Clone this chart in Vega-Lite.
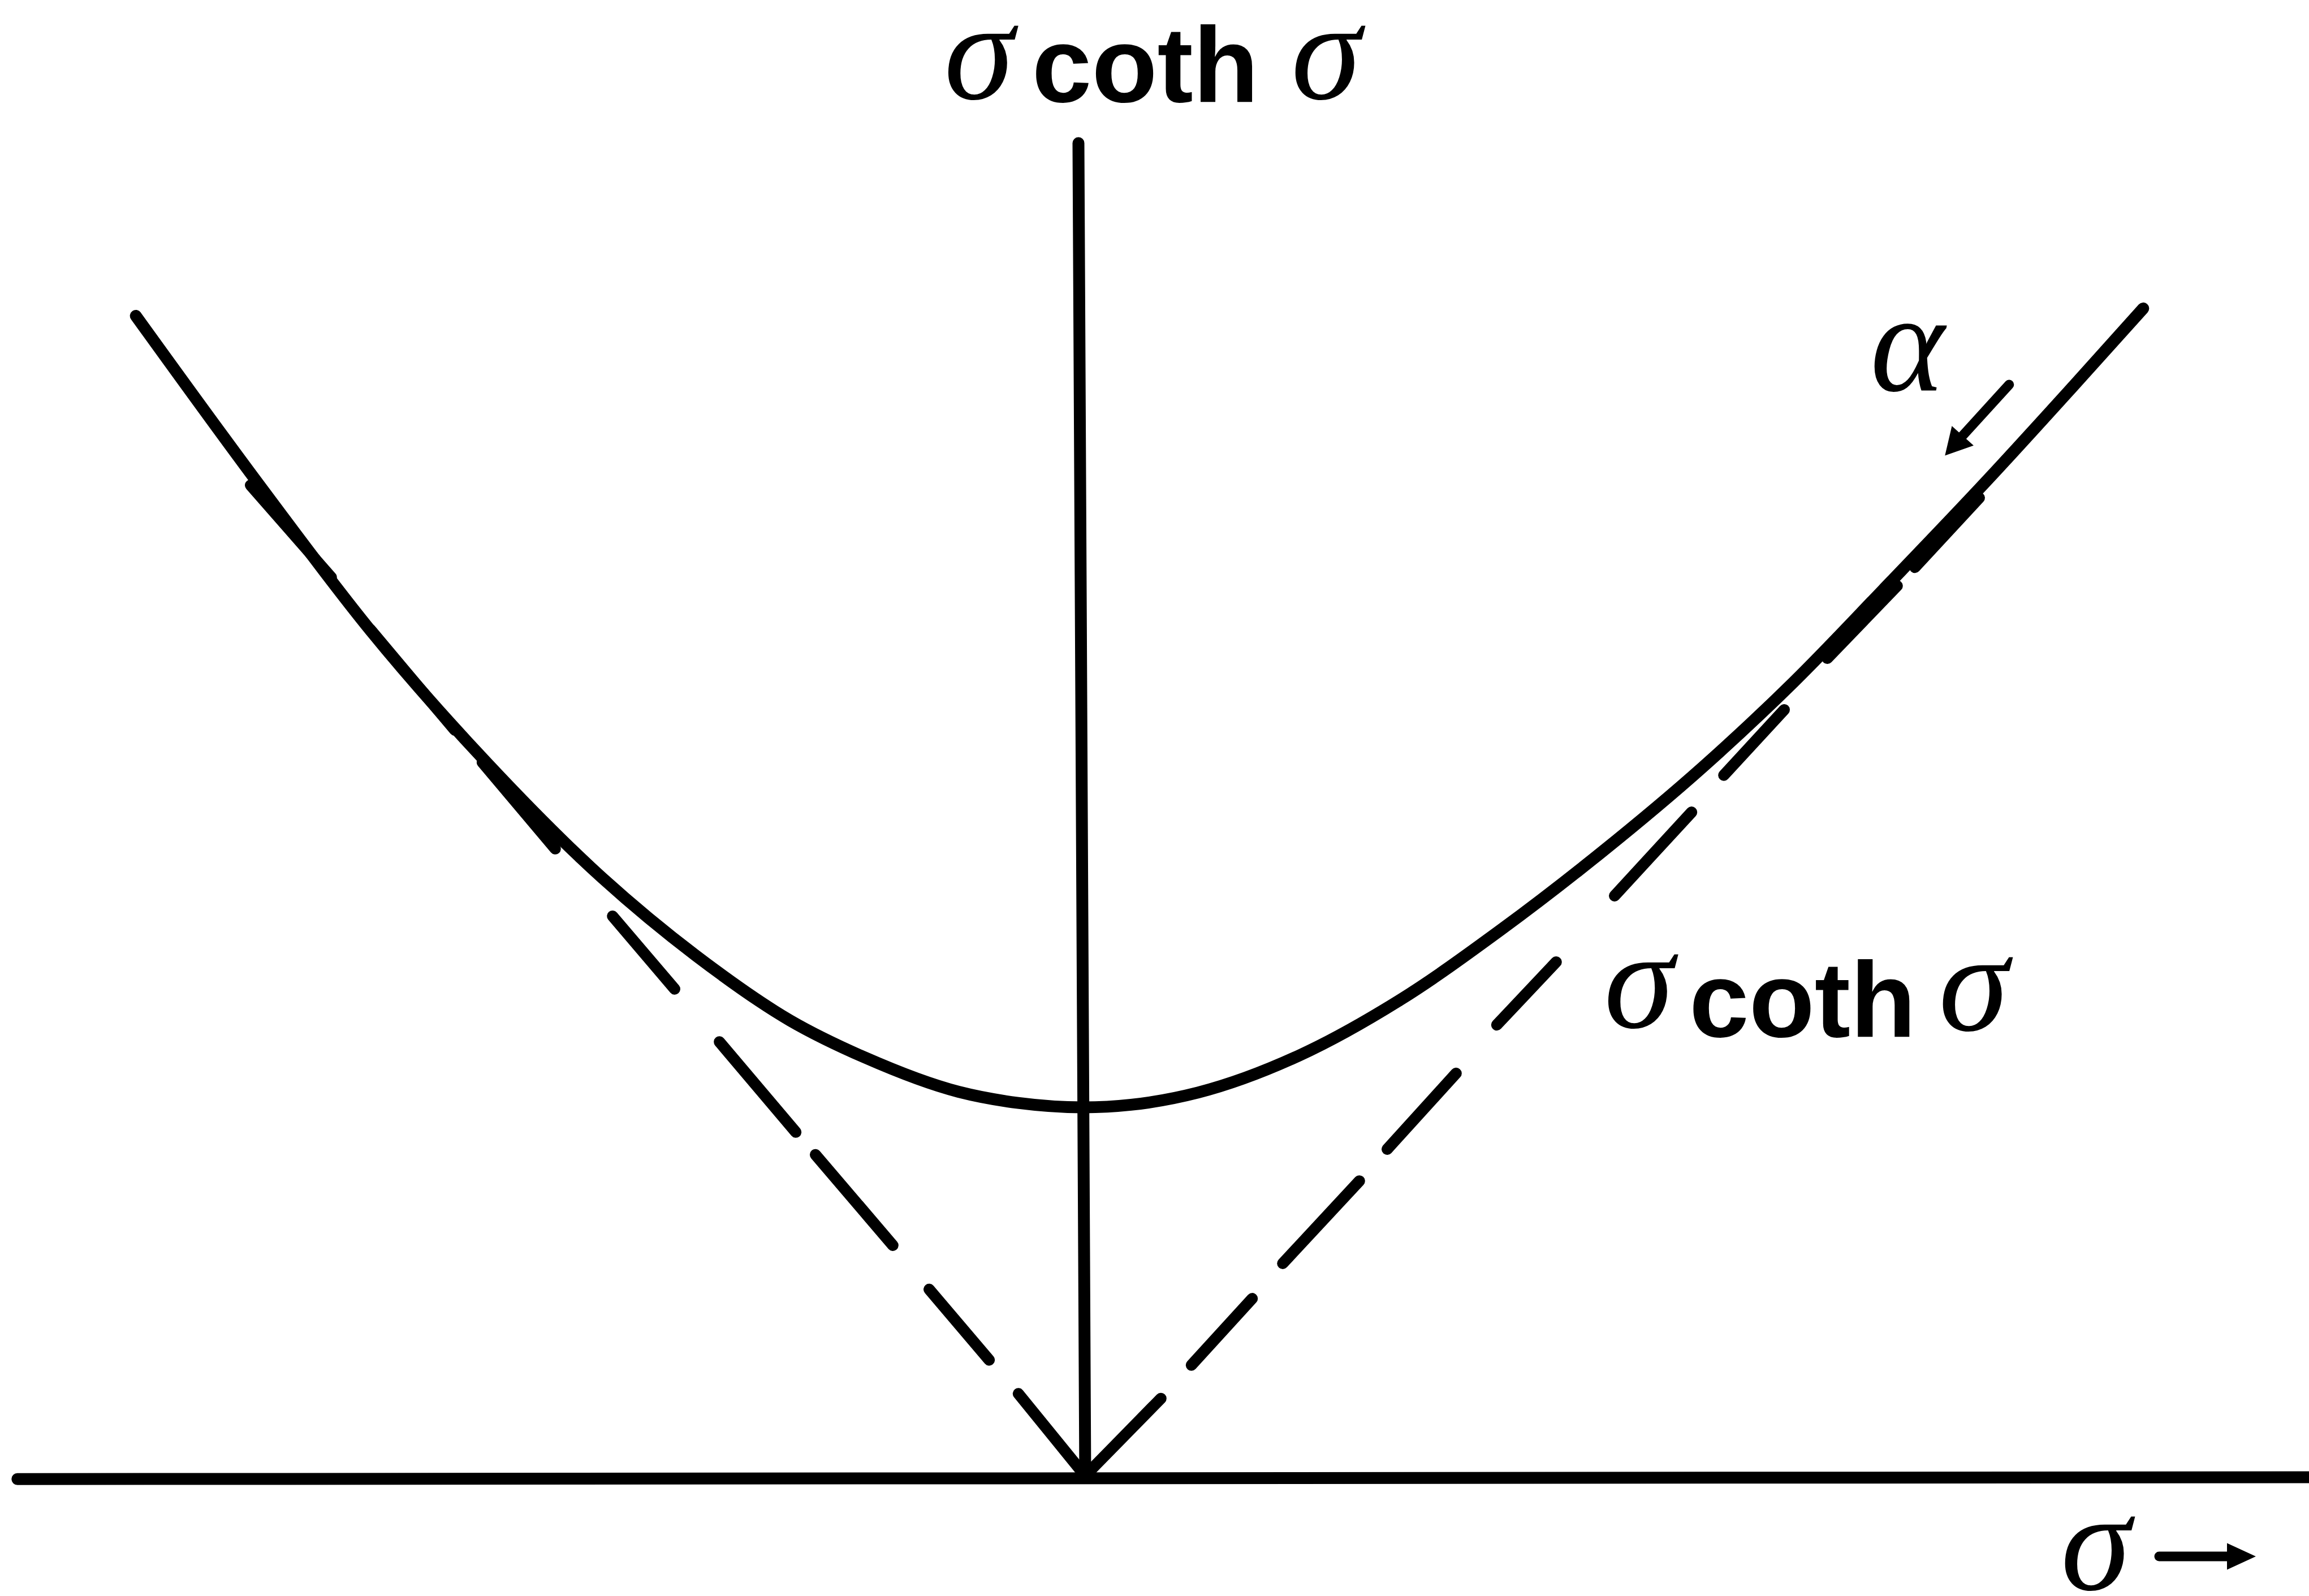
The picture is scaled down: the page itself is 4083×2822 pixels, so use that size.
{
  "$schema": "https://vega.github.io/schema/vega-lite/v6.json",
  "description": "Schematic of sigma coth sigma with its asymptotes |sigma|",
  "width": 4083,
  "height": 2822,
  "autosize": {"type": "none"},
  "padding": 0,
  "background": "white",
  "config": {"view": {"stroke": null}},
  "layer": [
    {
      "data": {"values": [
        {"x0": -3.142, "y0": -0.005, "x1": 3.70, "y1": 0.0},
        {"x0": -0.015, "y0": 3.607, "x1": 0.005, "y1": 0.0}
      ]},
      "mark": {"type": "rule", "color": "black", "strokeWidth": 21, "strokeCap": "round", "clip": true},
      "encoding": {
        "x": {"field": "x0", "type": "quantitative", "scale": {"domain": [-3.19333, 3.61167], "nice": false, "zero": false}, "axis": null},
        "y": {"field": "y0", "type": "quantitative", "scale": {"domain": [-0.3211, 3.9939], "nice": false, "zero": false}, "axis": null},
        "x2": {"field": "x1"},
        "y2": {"field": "y1"}
      }
    },
    {
      "data": {"values": [
        {"x0": 0.007, "y0": 0.006, "x1": 0.228, "y1": 0.213},
        {"x0": 0.318, "y0": 0.303, "x1": 0.497, "y1": 0.483},
        {"x0": 0.587, "y0": 0.578, "x1": 0.813, "y1": 0.801},
        {"x0": 0.895, "y0": 0.887, "x1": 1.098, "y1": 1.092},
        {"x0": 1.218, "y0": 1.223, "x1": 1.393, "y1": 1.393},
        {"x0": 1.565, "y0": 1.572, "x1": 1.792, "y1": 1.798},
        {"x0": 1.887, "y0": 1.898, "x1": 2.065, "y1": 2.075},
        {"x0": 2.192, "y0": 2.214, "x1": 2.398, "y1": 2.410},
        {"x0": 2.450, "y0": 2.460, "x1": 2.640, "y1": 2.648},
        {"x0": -2.455, "y0": 2.682, "x1": -2.217, "y1": 2.433},
        {"x0": -2.102, "y0": 2.292, "x1": -1.853, "y1": 2.020},
        {"x0": -1.772, "y0": 1.933, "x1": -1.557, "y1": 1.699},
        {"x0": -1.388, "y0": 1.517, "x1": -1.205, "y1": 1.320},
        {"x0": -1.073, "y0": 1.177, "x1": -0.848, "y1": 0.933},
        {"x0": -0.790, "y0": 0.872, "x1": -0.562, "y1": 0.627},
        {"x0": -0.455, "y0": 0.508, "x1": -0.278, "y1": 0.317},
        {"x0": -0.192, "y0": 0.226, "x1": 0.003, "y1": 0.006}
      ]},
      "mark": {"type": "rule", "color": "black", "strokeWidth": 20, "strokeCap": "round"},
      "encoding": {
        "x": {"field": "x0", "type": "quantitative"},
        "y": {"field": "y0", "type": "quantitative"},
        "x2": {"field": "x1"},
        "y2": {"field": "y1"}
      }
    },
    {
      "data": {"values": [
        {"s": -2.793, "v": 3.140},
        {"s": -2.427, "v": 2.680},
        {"s": -2.102, "v": 2.290},
        {"s": -1.757, "v": 1.930},
        {"s": -1.418, "v": 1.620},
        {"s": -1.142, "v": 1.410},
        {"s": -0.865, "v": 1.235},
        {"s": -0.645, "v": 1.135},
        {"s": -0.368, "v": 1.042},
        {"s": -0.193, "v": 1.012},
        {"s": 0.0, "v": 1.000},
        {"s": 0.140, "v": 1.007},
        {"s": 0.337, "v": 1.040},
        {"s": 0.635, "v": 1.140},
        {"s": 0.932, "v": 1.290},
        {"s": 1.230, "v": 1.480},
        {"s": 1.527, "v": 1.690},
        {"s": 1.825, "v": 1.920},
        {"s": 2.093, "v": 2.150},
        {"s": 2.357, "v": 2.400},
        {"s": 2.668, "v": 2.700},
        {"s": 2.917, "v": 2.950},
        {"s": 3.123, "v": 3.160}
      ]},
      "mark": {"type": "line", "color": "black", "strokeWidth": 21, "strokeCap": "round", "interpolate": "monotone"},
      "encoding": {
        "x": {"field": "s", "type": "quantitative"},
        "y": {"field": "v", "type": "quantitative"}
      }
    },
    {
      "data": {"values": [
        {"x0": 2.728, "y0": 2.954, "x1": 2.575, "y1": 2.800},
        {"x0": 3.170, "y0": -0.214, "x1": 3.400, "y1": -0.214}
      ]},
      "mark": {"type": "rule", "color": "black", "strokeWidth": 17, "strokeCap": "round"},
      "encoding": {
        "x": {"field": "x0", "type": "quantitative"},
        "y": {"field": "y0", "type": "quantitative"},
        "x2": {"field": "x1"},
        "y2": {"field": "y1"}
      }
    },
    {
      "data": {"values": [
        {"x": 2.565, "y": 2.789, "dir": 222}
      ]},
      "mark": {"type": "point", "shape": "M0,-1L1.1,1L-1.1,1Z", "filled": true, "color": "black", "opacity": 1, "size": 2209},
      "encoding": {
        "x": {"field": "x", "type": "quantitative"},
        "y": {"field": "y", "type": "quantitative"},
        "angle": {"field": "dir", "type": "quantitative", "scale": null}
      }
    },
    {
      "data": {"values": [
        {"x": 3.4125, "y": -0.214, "dir": 90}
      ]},
      "mark": {"type": "point", "shape": "M0,-1L0.92,1L-0.92,1Z", "filled": true, "color": "black", "opacity": 1, "size": 2601},
      "encoding": {
        "x": {"field": "x", "type": "quantitative"},
        "y": {"field": "y", "type": "quantitative"},
        "angle": {"field": "dir", "type": "quantitative", "scale": null}
      }
    },
    {
      "data": {"values": [
        {"t": "σ", "x": -0.308, "y": 3.726},
        {"t": "σ", "x": 0.715, "y": 3.726},
        {"t": "σ", "x": 1.637, "y": 1.216},
        {"t": "σ", "x": 2.623, "y": 1.208},
        {"t": "σ", "x": 2.983, "y": -0.305}
      ]},
      "mark": {"type": "text", "font": "Liberation Serif", "fontStyle": "italic", "fontSize": 250, "align": "center", "baseline": "alphabetic", "color": "black"},
      "encoding": {
        "x": {"field": "x", "type": "quantitative"},
        "y": {"field": "y", "type": "quantitative"},
        "text": {"field": "t"}
      }
    },
    {
      "data": {"values": [
        {"t": "α", "x": 2.428, "y": 2.937}
      ]},
      "mark": {"type": "text", "font": "Liberation Serif", "fontStyle": "italic", "fontSize": 250, "align": "center", "baseline": "alphabetic", "color": "black"},
      "encoding": {
        "x": {"field": "x", "type": "quantitative"},
        "y": {"field": "y", "type": "quantitative"},
        "text": {"field": "t"}
      }
    },
    {
      "data": {"values": [
        {"t": "coth", "x": -0.152, "y": 3.719},
        {"t": "coth", "x": 1.785, "y": 1.191}
      ]},
      "mark": {"type": "text", "font": "Liberation Sans", "fontWeight": "bold", "fontSize": 190, "align": "left", "baseline": "alphabetic", "color": "black"},
      "encoding": {
        "x": {"field": "x", "type": "quantitative"},
        "y": {"field": "y", "type": "quantitative"},
        "text": {"field": "t"}
      }
    }
  ]
}
